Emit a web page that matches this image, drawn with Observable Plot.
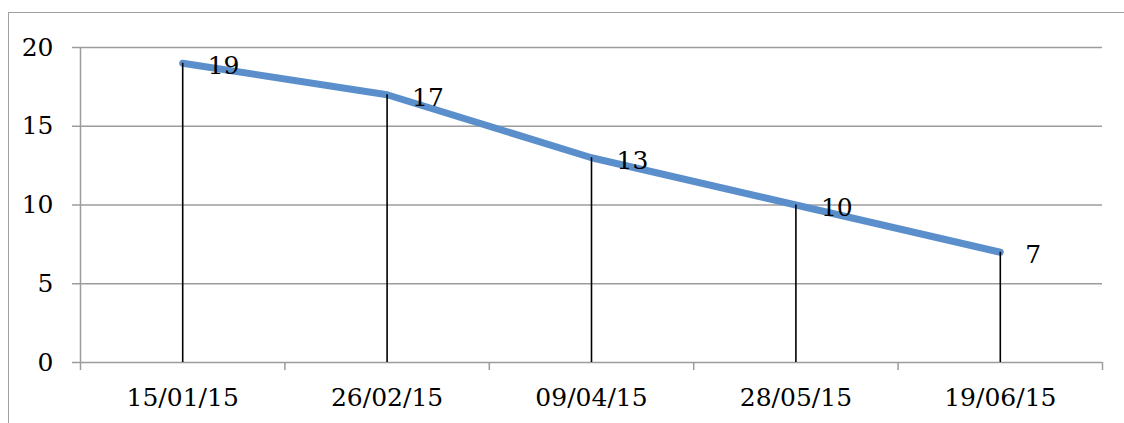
<!DOCTYPE html>
<html>
<head>
<meta charset="utf-8">
<script src="https://cdn.jsdelivr.net/npm/d3@7"></script>
<script src="https://cdn.jsdelivr.net/npm/@observablehq/plot@0.6"></script>
<style>
  html, body { margin: 0; padding: 0; background: #fff; overflow: hidden; }
  #wrap { position: relative; width: 1124px; height: 423px; }
  #border { position: absolute; left: 8px; top: 12px; width: 2000px; height: 2000px;
            border-left: 1.5px solid #a0a0a0; border-top: 1.5px solid #a0a0a0; pointer-events: none; }
  #wrap svg { position: absolute; left: 0; top: 0; }
  #wrap svg text { font-family: 'DejaVu Serif', 'Liberation Serif', serif; font-size: 25px; }
</style>
</head>
<body>
<div id="wrap"><div id="border"></div></div>
<script>
const dates = ["15/01/15", "26/02/15", "09/04/15", "28/05/15", "19/06/15"];
const values = [19, 17, 13, 10, 7];
const yTicks = [0, 5, 10, 15, 20];

const idx = dates.map((_, i) => i);
const bounds = d3.range(dates.length + 1).map(i => i - 0.5);
const gridVals = yTicks.filter(v => v > 0);
const gray = "#9c9c9c";

const chart = Plot.plot({
  width: 1124,
  height: 423,
  marginLeft: 80,
  marginRight: 22,
  marginTop: 47,
  marginBottom: 61,
  style: { fontFamily: "'DejaVu Serif', serif", fontSize: "25px", color: "#000", background: "transparent" },
  x: { type: "linear", domain: [-0.5, dates.length - 0.5], axis: null },
  y: { type: "linear", domain: [0, 20], axis: null },
  marks: [
    Plot.ruleY(gridVals, { stroke: gray, strokeWidth: 1.5 }),
    Plot.ruleY([0], { stroke: gray, strokeWidth: 1.5 }),
    Plot.ruleX([-0.5], { y1: 0, y2: 20, stroke: gray, strokeWidth: 1.5 }),
    Plot.axisY({ ticks: yTicks, tickSize: 8, tickPadding: 19, stroke: gray, strokeWidth: 1.5,
                 tickFormat: d => String(d), label: null, fill: "#000" }),
    Plot.axisX({ ticks: bounds, tickSize: 8, tickFormat: () => "", stroke: gray, strokeWidth: 1.5, label: null }),
    Plot.axisX({ ticks: idx, tickSize: 0, tickPadding: 26, tickFormat: i => dates[i], label: null,
                 fill: "#000" }),
    Plot.line(values, { x: (d, i) => i, y: d => d, stroke: "#5b8fcb", strokeWidth: 7,
                        strokeLinecap: "round", strokeLinejoin: "round" }),
    Plot.ruleX(values, { x: (d, i) => i, y1: 0, y2: d => d, stroke: "#000", strokeWidth: 1.6 }),
    Plot.text(values, { x: (d, i) => i, y: d => d, text: d => String(d), textAnchor: "start",
                        dx: 25, dy: 3, fill: "#000" })
  ]
});
document.getElementById("wrap").appendChild(chart);
</script>
</body>
</html>
